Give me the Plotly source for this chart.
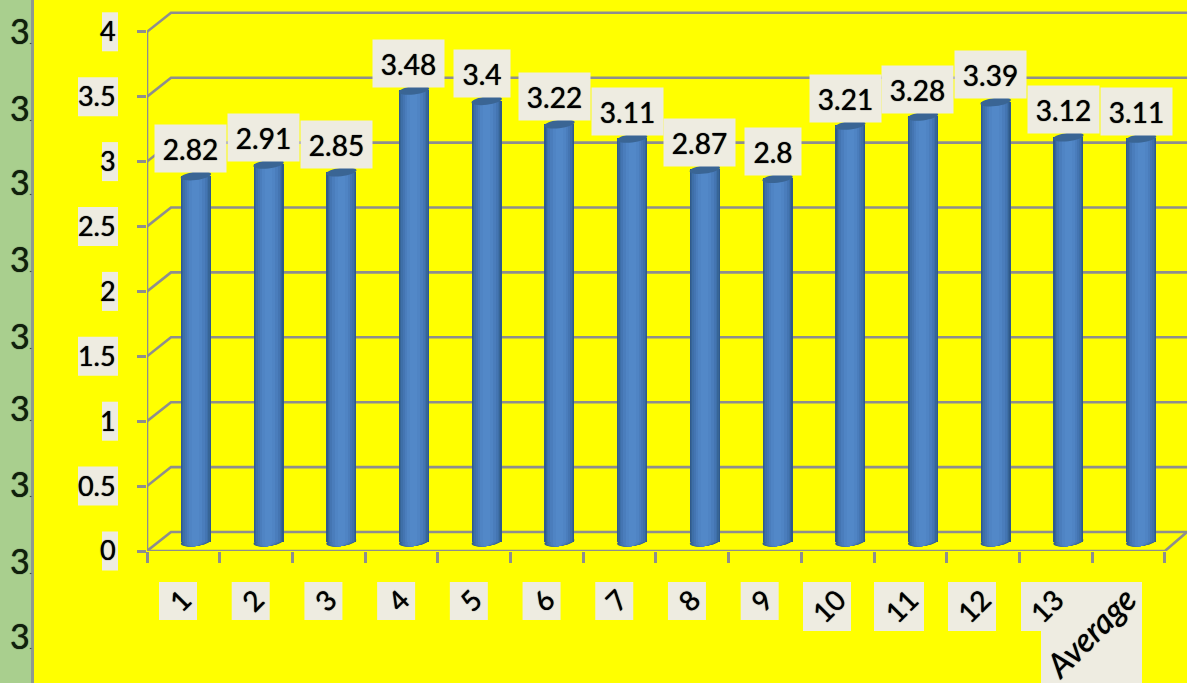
import math
import plotly.graph_objects as go

categories = ["1","2","3","4","5","6","7","8","9","10","11","12","13","Average"]
values = [2.82,2.91,2.85,3.48,3.4,3.22,3.11,2.87,2.8,3.21,3.28,3.39,3.12,3.11]
y_ticks = [0,0.5,1,1.5,2,2.5,3,3.5,4]
y_tick_text = ["0","0.5","1","1.5","2","2.5","3","3.5","4"]
side_labels_y = [31,107,182,258,335,407,483,560,635]

W, H = 1187, 683
L, B = 147, 132
PX_X = 72.71   # px per category
PX_Y = 129.8   # px per unit
x_max = (W - L) / PX_X
y_max = (H - B) / PX_Y
DX, DY = 24 / PX_X, 19 / PX_Y     # wall depth
BAR_SHIFT = 12.5 / PX_X
BASE = 0.07
GRAY = "#8E8E8E"
BOX = "#EEECE1"
FONT = "Lato"
HEFT = "0 0 1px #000"

def px(x): return (x - L) / (W - L)
def py(y): return (H - B - y) / (H - B)

shapes = []
def rect_px(x0, y0, x1, y1, color):
    shapes.append(dict(type="rect", xref="paper", yref="paper", x0=px(x0), x1=px(x1),
                       y0=py(y1), y1=py(y0), fillcolor=color, line_width=0, layer="below"))

# left strip
rect_px(0, 0, 32, H, "#A9CF8E")
rect_px(31, 0, 34, H, "#8F9A8F")

# tick-label backgrounds
for v, t in zip(y_ticks, y_tick_text):
    yc = H - B - v * PX_Y
    w = 16 if len(t) == 1 else 40
    rect_px(118 - w, yc - 19.5, 118, yc + 19.5, BOX)
for i, c in enumerate(categories[:9]):
    rect_px(159 + PX_X * i, 582, 197 + PX_X * i, 620, BOX)
rect_px(803, 582, 851, 631, BOX)
rect_px(874, 582, 924, 631, BOX)
rect_px(948, 582, 996, 631, BOX)
rect_px(1021, 582, 1065, 631, BOX)
rect_px(1041, 582, 1142, H, BOX)

def line(points):
    path = "M " + " L ".join(f"{a:.4f} {b:.4f}" for a, b in points)
    shapes.append(dict(type="path", path=path, xref="x", yref="y",
                       line=dict(color=GRAY, width=2.6), layer="below"))

# walls and gridlines
n = len(categories)
for v in y_ticks:
    line([(0, v), (DX, v + DY), (x_max + 1, v + DY)])
line([(0, -0.08), (0, y_ticks[-1])])
line([(0, 0), (n, 0), (n + 22 / PX_X, DY)])

# cylinders: stacked strips of a bar give the round shading
strips = [(30, "#2F5A8C"), (27.5, "#376597"), (25, "#3E6FA8"), (22, "#4475B2"),
          (18, "#4A7DBC"), (13, "#4F84C4"), (7, "#5288C8")]

def ellipse(xc, yc, half_w, half_h=4.2, tilt=1.8):
    pts = []
    for k in range(32):
        t = 2 * math.pi * k / 32
        dx = half_w * math.cos(t)
        dy = half_h * math.sin(t) + tilt * math.cos(t)
        pts.append((xc + dx / PX_X, yc + dy / PX_Y))
    return "M " + " L ".join(f"{a:.4f} {b:.4f}" for a, b in pts) + " Z"

xs = [i + 0.5 + BAR_SHIFT for i in range(n)]
for w, col in strips:
    for xc in xs:
        shapes.append(dict(type="path", path=ellipse(xc, BASE, w / 2), xref="x", yref="y",
                           fillcolor=col, line_width=0, layer="below"))
for xc, v in zip(xs, values):
    shapes.append(dict(type="path", path=ellipse(xc, v + BASE, 15.2), xref="x", yref="y",
                       fillcolor="#3A6594", line_width=0, layer="above"))

fig = go.Figure()
for w, col in strips:
    fig.add_trace(go.Bar(x=xs, y=values, base=BASE, width=w / PX_X,
                         marker=dict(color=col, line_width=0), hoverinfo="skip"))

annotations = []
for xc, v in zip(xs, values):
    t = f"{v:g}"
    annotations.append(dict(x=xc, y=v + BASE, xref="x", yref="y", text=t, showarrow=False,
                            xshift=-5, yshift=27, xanchor="center", yanchor="middle",
                            width=71 if len(t) == 4 else 56, height=47, align="center", valign="middle",
                            borderpad=0, bgcolor=BOX,
                            font=dict(family=FONT, size=28, color="#000", shadow=HEFT)))
for y in side_labels_y:
    annotations.append(dict(x=px(9), y=py(y), xref="paper", yref="paper", showarrow=False,
                            xanchor="left", yanchor="middle", borderpad=0,
                            text="3<span style='font-size:7px'>.</span>",
                            font=dict(family=FONT, size=34, color="#10200c", shadow=HEFT)))

tick_text = [c if len(c) < 3 else f"<i><span style='font-size:33px'>{c}</span></i>" for c in categories]

fig.update_layout(
    width=W, height=H, margin=dict(l=L, r=0, t=0, b=B, autoexpand=False),
    paper_bgcolor="#FFFF00", plot_bgcolor="rgba(0,0,0,0)",
    barmode="overlay", bargap=0, showlegend=False,
    font=dict(family=FONT, color="#000", size=27),
    shapes=shapes, annotations=annotations,
    xaxis=dict(range=[0, x_max], showgrid=False, zeroline=False, showline=False,
               tickmode="array", tickvals=[i + 0.5 for i in range(n)], ticktext=tick_text,
               ticks="", tickangle=-45, ticklabelstandoff=26,
               tickfont=dict(family=FONT, size=28, color="#000", shadow=HEFT),
               minor=dict(tickmode="array", tickvals=list(range(n + 1)), ticks="outside",
                          ticklen=11, tickwidth=2.6, tickcolor=GRAY, showgrid=False)),
    yaxis=dict(range=[0, y_max], showgrid=False, zeroline=False, showline=False,
               tickmode="array", tickvals=y_ticks, ticktext=y_tick_text,
               ticks="outside", ticklen=9, tickwidth=2.6, tickcolor=GRAY, ticklabelstandoff=16,
               tickfont=dict(family=FONT, size=27, color="#000", shadow=HEFT)),
)
fig.write_html("out.html", post_script="document.body.style.margin='0';document.body.style.overflow='hidden';",
               config=dict(displayModeBar=False))
